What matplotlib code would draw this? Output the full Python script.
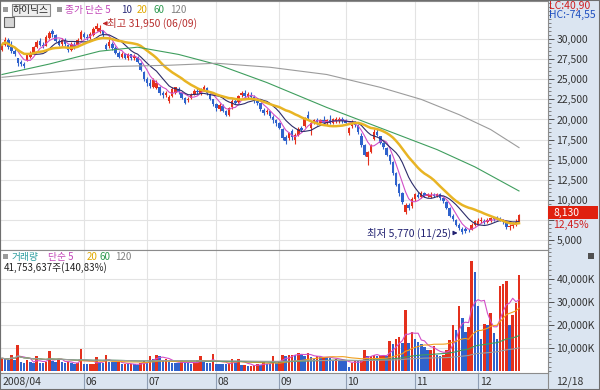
import matplotlib
matplotlib.use("Agg")
import matplotlib.pyplot as plt
import matplotlib.transforms as mtransforms
from matplotlib.patches import Rectangle
from matplotlib.ticker import MultipleLocator, FuncFormatter
import numpy as np
import pandas as pd

plt.rcParams['font.family'] = ['Noto Sans CJK KR', 'DejaVu Sans']

# daily candles 2008/04/23 ~ 2008/12/18 (won)
open_ = [28700, 29300, 29900, 29000, 28500, 27600, 27200, 26900, 27400, 27800,
         28200, 29000, 29800, 29300, 29200, 30200, 31000, 30500, 29800, 29400,
         29900, 29300, 28700, 29300, 29300, 30000, 30600, 30300, 30200, 30500,
         31300, 30900, 31000, 29300, 29200, 29400, 28900, 28300, 27800, 28100,
         27600, 28100, 27600, 27700, 27000, 25900, 25100, 24600, 24000, 23900,
         24000, 23300, 23000, 22300, 22900, 23300, 23800, 23300, 22700, 22400,
         22700, 23100, 23600, 23300, 23700, 23900, 23200, 22500, 21900, 21300,
         21700, 21000, 20600, 21500, 22300, 22200, 23000, 23300, 22800, 23100,
         22800, 22300, 22000, 21200, 20900, 21000, 20300, 19900, 19500, 18800,
         17800, 17700, 18600, 17400, 18100, 18900, 19200, 20600, 18900, 19600,
         19900, 19500, 19900, 19500, 19900, 19600, 19800, 19800, 20100, 19800,
         18300, 19200, 19600, 19300, 18000, 16800, 15300, 16000, 17600, 18500,
         17900, 17100, 16500, 15600, 14700, 13300, 12000, 10800, 8500, 9300,
         9200, 10100, 10600, 10400, 10800, 10500, 10400, 10600, 10500, 10700,
         10200, 9700, 9000, 8000, 7500, 6900, 6400, 6400, 6300, 6300,
         6900, 7000, 7300, 7400, 7200, 7300, 7700, 7800, 7600, 7400,
         7200, 6600, 6700, 6900, 7300]
high = [29600, 30300, 30100, 29800, 28800, 27700, 27400, 27100, 28200, 28500,
        29200, 29900, 30200, 29600, 30500, 31000, 31300, 30600, 30000, 30100,
        30100, 29400, 29600, 29600, 30100, 31200, 30900, 30600, 30900, 31500,
        31950, 31700, 31200, 29500, 30000, 29600, 29100, 28500, 28400, 28300,
        28300, 28200, 28100, 27900, 27200, 26000, 25300, 25000, 25200, 24900,
        24200, 23600, 23500, 23000, 24000, 24100, 24000, 23400, 22800, 22800,
        23300, 23800, 23900, 23900, 24300, 24100, 23300, 22600, 22000, 22000,
        21900, 21200, 21600, 22600, 22700, 23100, 23600, 23700, 23400, 23400,
        23000, 22500, 22100, 21400, 21300, 21100, 20500, 20000, 19700, 19000,
        18100, 18500, 18800, 18300, 19100, 19200, 20300, 21100, 19800, 20100,
        20200, 20100, 20400, 20100, 20500, 20200, 20300, 20300, 20300, 20100,
        19100, 19900, 19800, 19400, 18300, 16900, 16100, 17000, 18800, 18900,
        18000, 17200, 16600, 15700, 14800, 13500, 12100, 11000, 9600, 9600,
        10300, 10900, 11000, 11100, 11000, 10900, 11000, 10900, 10900, 10900,
        10300, 9800, 9100, 8200, 7600, 7100, 6600, 6600, 6400, 7100,
        7500, 7700, 7800, 7600, 7700, 7900, 7900, 8000, 7900, 7600,
        7300, 7000, 7200, 7600, 8200]
low = [28500, 29100, 28800, 28300, 27900, 26700, 26600, 26400, 27300, 27600,
       28100, 28900, 29100, 28900, 29100, 30000, 30300, 29600, 29100, 29200,
       29200, 28400, 28500, 28800, 29100, 29900, 30100, 29900, 30000, 30400,
       31000, 30800, 30300, 28600, 28900, 28700, 28100, 27600, 27600, 27500,
       27400, 27400, 27400, 27000, 26000, 24800, 24200, 23900, 23900, 23800,
       23100, 22700, 22800, 22100, 22800, 23200, 23200, 22500, 21900, 22200,
       22500, 23000, 23200, 23100, 23500, 23100, 22400, 21700, 21100, 21100,
       20900, 20400, 20400, 21300, 21900, 22000, 22800, 22700, 22600, 22600,
       22100, 21800, 21100, 20500, 20700, 20200, 19600, 19200, 18800, 17500,
       17000, 17500, 17500, 17000, 18000, 18500, 19100, 20000, 18100, 19400,
       19300, 19300, 19400, 19300, 19400, 19400, 19600, 19600, 19600, 19300,
       18100, 19000, 19100, 18200, 16600, 15400, 14300, 15800, 17400, 17900,
       16900, 16300, 15400, 14500, 13100, 11700, 10500, 9500, 8200, 8700,
       9000, 9900, 10200, 10200, 10300, 10300, 10200, 10300, 10400, 10000,
       9600, 8800, 7800, 7400, 6700, 6300, 5770, 5900, 6000, 6200,
       6700, 6900, 7100, 7000, 7100, 7200, 7400, 7500, 7300, 7000,
       6400, 6300, 6500, 6800, 7200]
close = [29300, 29900, 29000, 28500, 28200, 27000, 26900, 26600, 28000, 28300,
         29000, 29600, 29300, 29100, 30300, 30800, 30600, 29800, 29300, 29900,
         29400, 28600, 29400, 29000, 29900, 30900, 30300, 30100, 30700, 31300,
         31600, 31400, 30500, 28800, 29700, 28900, 28300, 27800, 28200, 27700,
         28100, 27600, 27900, 27200, 26200, 25000, 24500, 24200, 24900, 24600,
         23300, 23000, 23300, 22800, 23800, 24000, 23400, 22700, 22000, 22600,
         23100, 23600, 23400, 23700, 24000, 23300, 22600, 21900, 21400, 21800,
         21100, 20600, 21400, 22300, 22100, 22900, 23300, 22900, 23200, 22800,
         22300, 22000, 21300, 20800, 21100, 20400, 19900, 19500, 19000, 17700,
         17300, 18300, 17800, 18100, 18800, 18700, 20000, 20200, 19600, 19900,
         19500, 19900, 19600, 19900, 19600, 20000, 20000, 20100, 19800, 19500,
         19000, 19700, 19300, 18400, 16800, 15600, 15900, 16800, 18500, 18100,
         17100, 16600, 15600, 14800, 13300, 11900, 10800, 9700, 9300, 9000,
         10100, 10700, 10400, 10800, 10500, 10700, 10600, 10500, 10700, 10200,
         9800, 9000, 8000, 7600, 6900, 6500, 6000, 6100, 6200, 6900,
         7300, 7400, 7500, 7200, 7500, 7700, 7600, 7600, 7400, 7200,
         6600, 6800, 6900, 7230, 8130]
# volume, thousand shares
volume = [5600, 5300, 4900, 7000, 5000, 11300, 3800, 3700, 5000, 3800,
          3600, 6600, 3600, 3400, 4200, 8600, 4300, 4200, 5200, 4000,
          3500, 3900, 3400, 3300, 3500, 9700, 3000, 2900, 3000, 3100,
          6000, 3800, 3700, 7000, 4200, 3900, 3800, 4000, 3000, 3000,
          2900, 3200, 3000, 2800, 3500, 4300, 4100, 6800, 5200, 7000,
          6500, 5000, 5200, 3800, 3600, 3500, 3400, 4800, 3600, 3500,
          3300, 3400, 4800, 6600, 3800, 3600, 3500, 7500, 3300, 3200,
          3000, 2900, 3500, 5500, 4000, 5500, 2500, 2500, 2400, 2400,
          2500, 3300, 2800, 3800, 3300, 3000, 6600, 3600, 3900, 7000,
          6800, 7000, 7200, 6900, 8000, 7500, 6500, 8000, 6000, 5500,
          6500, 6100, 6200, 6000, 5800, 4800, 5200, 5000, 4500, 4300,
          2000, 3500, 5000, 4600, 4800, 9300, 6500, 6800, 7000, 6500,
          6800, 7000, 6400, 13000, 12000, 14000, 15000, 12300, 26800, 12300,
          17000, 14000, 12500, 12000, 10500, 9000, 9100, 11000, 7200, 6800,
          7000, 9300, 13700, 20000, 18000, 28500, 23000, 17000, 19000, 48000,
          43000, 28500, 14000, 20500, 20000, 25500, 16500, 14000, 37000, 38000,
          39000, 20000, 24500, 29700, 41750]

# long moving averages (candle index, won)
ma60_idx = [0, 15, 31, 43, 56, 69, 84, 103, 123, 138, 150, 164]
ma60_val = [25600, 26900, 28500, 29000, 28100, 26750, 24600, 21500, 18500, 16250, 14100, 11100]
ma120_idx = [0, 35, 53, 68, 85, 103, 120, 133, 145, 155, 164]
ma120_val = [25250, 26600, 26750, 27000, 26500, 25600, 24000, 22500, 20600, 18750, 16500]

month_idx = [26, 46, 68, 88, 109, 131, 151]
month_lbl = ['06', '07', '08', '09', '10', '11', '12']
price_ticks = [5000, 7500, 10000, 12500, 15000, 17500, 20000, 22500, 25000, 27500, 30000]
vol_ticks = [10000, 20000, 30000, 40000]

RED = '#e4301c'
BLUE = '#2f62cc'
W, H = 600, 390


def rect(x0, y0, x1, y1):
    return [x0 / W, 1 - y1 / H, (x1 - x0) / W, (y1 - y0) / H]


def fx(px):
    return px / W


def fy(py):
    return 1 - py / H


o = np.array(open_)
c = np.array(close)
h = np.array(high)
l = np.array(low)
v = np.array(volume)
x = np.arange(len(c))

fig = plt.figure(figsize=(6, 3.9), dpi=100, facecolor='#dbe5f1')
axp = fig.add_axes(rect(0, 1, 548, 250))
axv = fig.add_axes(rect(0, 250, 548, 373))

for ax in (axp, axv):
    ax.set_facecolor('white')
    ax.set_xlim(-0.63, 173.2)
    ax.set_xticks(month_idx)
    ax.grid(True, color='#e3e3e3', lw=0.8)
    ax.set_axisbelow(True)
    for s in ax.spines.values():
        s.set_color('#8c8c8c')
        s.set_linewidth(0.8)
    ax.yaxis.tick_right()

# candles
cols = np.where(c >= o, RED, BLUE)
axp.vlines(x, l, h, colors=cols, lw=0.8, zorder=2)
body = np.maximum(np.abs(c - o), 60)
axp.bar(x, body, bottom=np.minimum(o, c), width=0.78, color=cols, linewidth=0, zorder=2)

s = pd.Series(c)
axp.plot(x, s.rolling(5, min_periods=1).mean(), color='#d24fc8', lw=0.8, zorder=3)
axp.plot(x, s.rolling(10, min_periods=1).mean(), color='#2c2c6a', lw=0.8, zorder=3)
axp.plot(x, s.rolling(20, min_periods=1).mean(), color='#e8b424', lw=1.8, zorder=3)
axp.plot(ma60_idx, ma60_val, color='#3f9e5e', lw=0.8, zorder=3)
axp.plot(ma120_idx, ma120_val, color='#9c9c9c', lw=0.8, zorder=3)

axp.set_ylim(3750, 34750)
axp.set_yticks(price_ticks)
axp.yaxis.set_minor_locator(MultipleLocator(500))
axp.yaxis.set_major_formatter(FuncFormatter(lambda val, p: '' if val == 7500 else f'{int(val):,}'))
axp.tick_params(axis='y', which='major', length=4, width=0.7, color='#505050',
                labelsize=7.5, labelcolor='#333333', pad=2)
axp.tick_params(axis='y', which='minor', length=2, width=0.6, color='#707070')
axp.tick_params(axis='x', length=0, labelbottom=False)

# high / low marks
imax = int(np.argmax(h))
imin = int(np.argmin(l))
axp.annotate('', xy=(imax + 1.0, h[imax]), xytext=(imax + 3.4, h[imax]),
             arrowprops=dict(arrowstyle='-|>', color='#c02828', lw=0.8, mutation_scale=6))
axp.text(imax + 3.4, h[imax], f'최고 {h[imax]:,} (06/09)', color='#b83030',
         fontsize=7.5, ha='left', va='center')
axp.annotate('', xy=(imin - 0.6, l[imin] + 100), xytext=(imin - 3.2, l[imin] + 100),
             arrowprops=dict(arrowstyle='-|>', color='#202070', lw=0.8, mutation_scale=6))
axp.text(imin - 3.4, l[imin] + 100, f'최저 {l[imin]:,} (11/25)', color='#202070',
         fontsize=7.5, ha='right', va='center')

# volume
vcols = [RED] + [RED if v[i] >= v[i - 1] else BLUE for i in range(1, len(v))]
axv.bar(x, v, width=0.8, color=vcols, linewidth=0, zorder=2)
sv = pd.Series(v)
axv.plot(x, sv.rolling(5, min_periods=1).mean(), color='#d24fc8', lw=0.8, zorder=3)
axv.plot(x, sv.rolling(20, min_periods=1).mean(), color='#f0a020', lw=0.8, zorder=3)
axv.plot(x, sv.rolling(60, min_periods=1).mean(), color='#3f9e5e', lw=0.8, zorder=3)
axv.plot(x, sv.rolling(120, min_periods=1).mean(), color='#9c9c9c', lw=0.8, zorder=3)
axv.set_ylim(-800, 52700)
axv.set_yticks(vol_ticks)
axv.yaxis.set_minor_locator(MultipleLocator(2000))
axv.yaxis.set_major_formatter(FuncFormatter(lambda val, p: f'{int(val):,}K'))
axv.tick_params(axis='y', which='major', length=4, width=0.7, color='#505050',
                labelsize=7.5, labelcolor='#333333', pad=2)
axv.tick_params(axis='y', which='minor', length=2, width=0.6, color='#707070')
axv.tick_params(axis='x', length=12.2, width=0.8, color='#8f9fb5', direction='out',
                labelbottom=False)

tr = mtransforms.blended_transform_factory(axv.transData, fig.transFigure)
for m, lbl in zip(month_idx, month_lbl):
    axv.text(m + 0.5, fy(382), lbl, transform=tr, fontsize=7.5, color='#333333',
             ha='left', va='center')
fig.text(fx(3), fy(382), '2008/04', fontsize=7.5, color='#333333', va='center')
fig.text(fx(556), fy(382), '12/18', fontsize=7.5, color='#333333', va='center')

# header
fig.patches.append(Rectangle((fx(3), fy(12)), 5 / W, 5 / H, transform=fig.transFigure,
                             fc='#9a9a9a', ec='none'))
fig.text(fx(13), fy(10), '하이닉스', fontsize=7, color='#222222', va='center',
         bbox=dict(boxstyle='square,pad=0.15', fc='#eeeeee', ec='#8a8a8a', lw=0.8))
fig.patches.append(Rectangle((fx(57), fy(12)), 5 / W, 5 / H, transform=fig.transFigure,
                             fc='#9a9a9a', ec='none'))
for px, txt, col in [(65, '종가 단순 5', '#c245b8'), (121, '10', '#2c2c7a'),
                     (137, '20', '#e0a800'), (154, '60', '#2e9a50'), (170, '120', '#808080')]:
    fig.text(fx(px), fy(10), txt, fontsize=7, color=col, va='center')
fig.patches.append(Rectangle((fx(4), fy(27)), 10 / W, 10 / H, transform=fig.transFigure,
                             fc='#d6d6d6', ec='#606060', lw=0.8))

fig.patches.append(Rectangle((fx(3), fy(259)), 5 / W, 5 / H, transform=fig.transFigure,
                             fc='#9a9a9a', ec='none'))
for px, txt, col in [(12, '거래량', '#2e9ea0'), (48, '단순 5', '#c245b8'), (87, '20', '#e0a800'),
                     (99, '60', '#2e9a50'), (115, '120', '#808080')]:
    fig.text(fx(px), fy(257), txt, fontsize=7, color=col, va='center')
fig.text(fx(4), fy(268), '41,753,637주(140,83%)', fontsize=7, color='#222222', va='center')

# right panel marks
fig.text(fx(549), fy(6), 'LC:40,90', fontsize=7.5, color='#d02020', va='center')
fig.text(fx(549), fy(15), 'HC:-74,55', fontsize=7.5, color='#2050c0', va='center')
fig.patches.append(Rectangle((fx(548), fy(219)), 50 / W, 13 / H, transform=fig.transFigure,
                             fc='#e0200e', ec='none'))
fig.text(fx(553), fy(212.5), f'{c[-1]:,}', fontsize=7.5, color='white', va='center')
fig.text(fx(553), fy(225), '12,45%', fontsize=7.5, color='#d02020', va='center')
fig.patches.append(Rectangle((fx(588), fy(259)), 6 / W, 6 / H, transform=fig.transFigure,
                             fc='#505050', ec='none'))

fig.lines.append(plt.Line2D([fx(548), fx(548)], [0, fy(373)], transform=fig.transFigure,
                            color='#8c8c8c', lw=0.8))
fig.patches.append(Rectangle((0, 0), 1, 1, transform=fig.transFigure, fill=False,
                             ec='#6e6e6e', lw=1.5))

fig.savefig('out.png', dpi=100, facecolor=fig.get_facecolor())
